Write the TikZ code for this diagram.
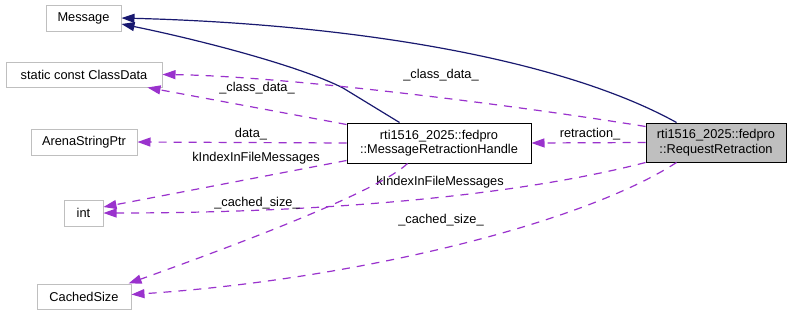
\documentclass[tikz,border=0pt]{standalone}
\usepackage{fontspec}
\setmainfont{Liberation Sans}
\usetikzlibrary{arrows.meta,calc}
\definecolor{dxnavy}{HTML}{191970}
\definecolor{dxpurple}{HTML}{9A32CD}
\definecolor{dxgrey}{HTML}{BFBFBF}
\newcommand{\dxfont}{\fontsize{12.8}{14.5}\selectfont}
\tikzset{
  cls/.style={rectangle,draw=dxgrey,line width=1pt,inner sep=0pt,minimum height=25pt,font=\dxfont,text=black},
  doccls/.style={rectangle,draw=black,fill=white,line width=1pt,inner sep=0pt,minimum height=40pt,align=center,font=\dxfont,text=black},
  inherit/.style={-{Triangle[length=13pt,width=9pt]},draw=dxnavy,line width=1.2pt},
  usage/.style={-{Triangle[length=13pt,width=9pt]},draw=dxpurple,line width=1.2pt,dash pattern=on 8pt off 7pt},
  elabel/.style={font=\dxfont,inner sep=0pt,text=black},
}

\begin{document}
\begin{tikzpicture}[x=1pt,y=-1pt]
  \path[use as bounding box] (0,0) rectangle (792,316);
  \fill[white] (0,0) rectangle (792,316);
  \node[cls,minimum width=75pt,minimum height=26pt] (msg) at (83.5,18) {Message};
  \node[cls,minimum width=156pt] (cdata) at (84,74.5) {static const ClassData};
  \node[cls,minimum width=106pt,minimum height=26pt] (arena) at (84,142) {ArenaStringPtr};
  \node[cls,minimum width=39pt,minimum height=26pt] (intn) at (83.5,213) {int};
  \node[cls,minimum width=94pt] (csize) at (84,296.5) {CachedSize};
  \node[doccls,minimum width=184pt] (mrh) at (439,143) {rti1516\_2025::fedpro\\::MessageRetractionHandle};
  \node[doccls,fill=dxgrey,minimum width=140pt,minimum height=39pt] (rr) at (716,142.5) {rti1516\_2025::fedpro\\::RequestRetraction};
  % inheritance
  \draw[inherit] ([xshift=31pt]rr.north west) .. controls (560,58) and (350,24) .. (msg.east);
  \draw[inherit] ([xshift=53pt]mrh.north west) -- (343,88) .. controls (300,66) and (200,40) .. ([yshift=-6pt]msg.east);
  % members
  \draw[usage] ([yshift=-4pt]rr.north west) .. controls (500,103) and (280,76) .. (cdata.east);
  \node[elabel] (lcd1) at (441,75) {\_class\_data\_};
  \draw[usage] ([yshift=-2pt]mrh.north west) -- ([xshift=-15pt]cdata.south east);
  \node[elabel] (lcd2) at (257,88) {\_class\_data\_};
  \draw[usage] (mrh.west) -- (arena.east);
  \node[elabel] (ldata) at (251,134) {data\_};
  \draw[usage] ([yshift=3pt]mrh.south west) -- ([yshift=6pt]intn.east);
  \node[elabel] (lki1) at (256,158) {kIndexInFileMessages};
  \draw[usage] (rr.south west) .. controls (520,195) and (330,213) .. (intn.east);
  \node[elabel] (lki2) at (440,182) {kIndexInFileMessages};
  \draw[usage] ([xshift=61pt]mrh.south west) .. controls (380,190) and (250,240) .. ([xshift=-3pt]csize.north east);
  \node[elabel] (lcs1) at (257,203) {\_cached\_size\_};
  \draw[usage] ([xshift=31pt]rr.south west) .. controls (580,225) and (350,280) .. ([yshift=2pt]csize.east);
  \node[elabel] (lcs2) at (441,220) {\_cached\_size\_};
  \draw[usage] (rr.west) -- (mrh.east);
  \node[elabel] (lret) at (590,134) {retraction\_};
\end{tikzpicture}
\end{document}
